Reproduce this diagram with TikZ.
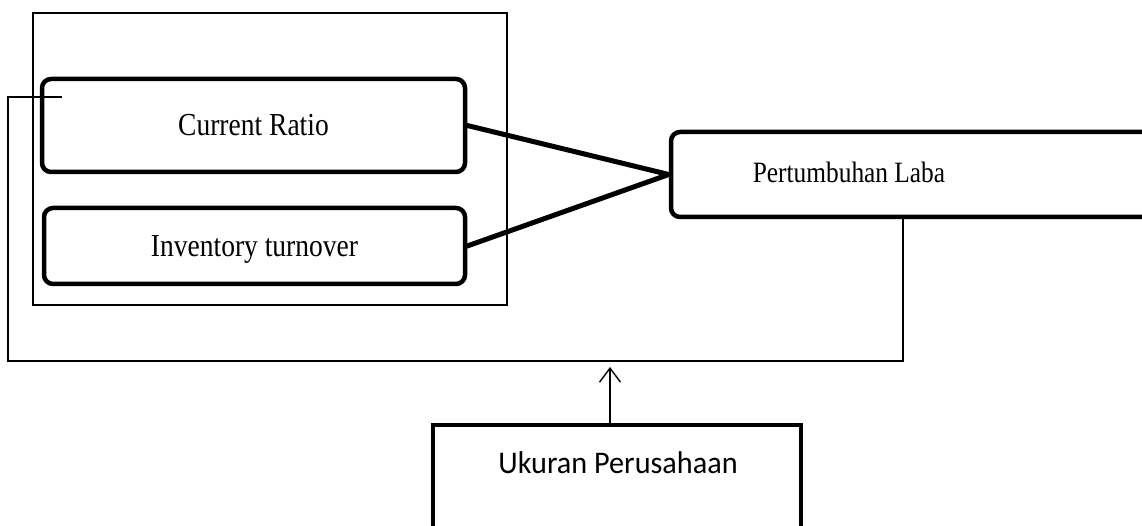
\documentclass[tikz,border=0pt]{standalone}
\usepackage{fontspec}
\setmainfont{Liberation Serif}
\newfontfamily\tnrfont[FakeStretch=0.86]{Liberation Serif}
\newfontfamily\calfont[FakeStretch=0.96]{Carlito}
\usetikzlibrary{arrows.meta}
\begin{document}
\begin{tikzpicture}[x=1pt,y=-1pt,
  thinline/.style={line width=1.4pt, draw=black},
  thickbox/.style={draw=black, line width=4.5pt, rounded corners=9pt, inner sep=0pt},
  sqbox/.style={draw=black, line width=4.5pt, inner sep=0pt},
  conn/.style={line width=5pt, line cap=round},
  serif/.style={font=\tnrfont\fontsize{32}{36}\selectfont},
  serifb/.style={font=\tnrfont\fontsize{29.5}{34}\selectfont},
  sans/.style={font=\calfont\fontsize{31.5}{36}\selectfont}]
\useasboundingbox (0,0) rectangle (1142,526);
% outer frame
\node[thinline, draw, minimum width=474pt, minimum height=292pt, inner sep=0pt] (outer) at (270,159) {};
% left boxes
\node[thickbox, serif, minimum width=423pt, minimum height=93pt] (cr) at (253.5,125.5) {Current Ratio};
\node[thickbox, serif, minimum width=421pt, minimum height=76pt, text height=21pt, text depth=0pt] (inv) at (254.5,246) {Inventory turnover};
% right box
\node[thickbox, minimum width=490pt, minimum height=85pt] (pl) at (916,174.5) {};
\node[serifb, anchor=base] (plt) at (849,183) {Pertumbuhan Laba};
% connectors
\draw[conn] (cr.east) -- (pl.west);
\draw[conn] (inv.east) -- (pl.west);
% feedback line
\coordinate (fb) at (62,97);
\draw[thinline] (fb) -- (8,97) |- (903,361) -- (903,0 |- pl.south);
% bottom box
\node[sqbox, minimum width=368pt, minimum height=125pt] (uk) at (617,487.5) {};
\node[sans, anchor=base] (ukt) at (618,473) {Ukuran Perusahaan};
\coordinate (ukin) at (610,0 |- uk.north);
\coordinate (ukout) at (610,367);
\draw[thinline, -{Straight Barb[length=14pt,width=21pt,line width=1.4pt]}] (ukin) -- (ukout);
\end{tikzpicture}
\end{document}
